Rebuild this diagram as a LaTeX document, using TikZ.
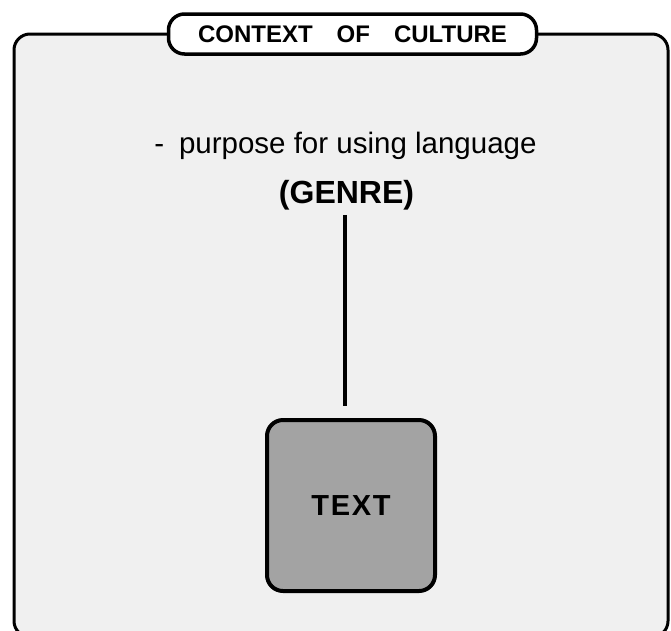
\documentclass[tikz,border=0pt]{standalone}
\usepackage{fontspec}
\setmainfont{Liberation Sans}
\usetikzlibrary{positioning}

\begin{document}
\begin{tikzpicture}[
    x=1pt, y=-1pt,
    frame/.style={draw, line width=3pt, rounded corners=16pt, fill=black!6,
        minimum width=654pt, minimum height=603pt, inner sep=0pt},
    titlebox/.style={draw, line width=3.5pt, rounded corners=16pt, fill=white,
        minimum width=368pt, minimum height=40pt, font=\fontsize{24}{26}\selectfont\bfseries},
    label/.style={font=\fontsize{29.5}{32}\selectfont, inner sep=4pt},
    textbox/.style={draw, line width=4pt, rounded corners=16pt, fill=black!36,
        minimum width=168pt, minimum height=171pt, font=\fontsize{29}{32}\selectfont\bfseries}
]
\useasboundingbox (0,0) rectangle (671,630);
\clip (0,0) rectangle (671,630);

\node[frame] (culture) at (341,335.5) {};
\node[titlebox] (title) at (352.5,34) {CONTEXT\quad OF\quad CULTURE};

\node[label, anchor=base] (purpose) at (345.5,153) {-\enspace purpose for using language};
\node[label, anchor=base, font=\fontsize{32}{34}\selectfont\bfseries] (genre) at (346.5,203) {(GENRE)};
\node[textbox] (text) at (351,505.5) {\addfontfeature{LetterSpace=6}TEXT};

% genre to text
\draw[line width=4pt, shorten <=1pt, shorten >=12pt] (genre.south -| 345,0) -- (text.north -| 345,0);

\end{tikzpicture}
\end{document}
